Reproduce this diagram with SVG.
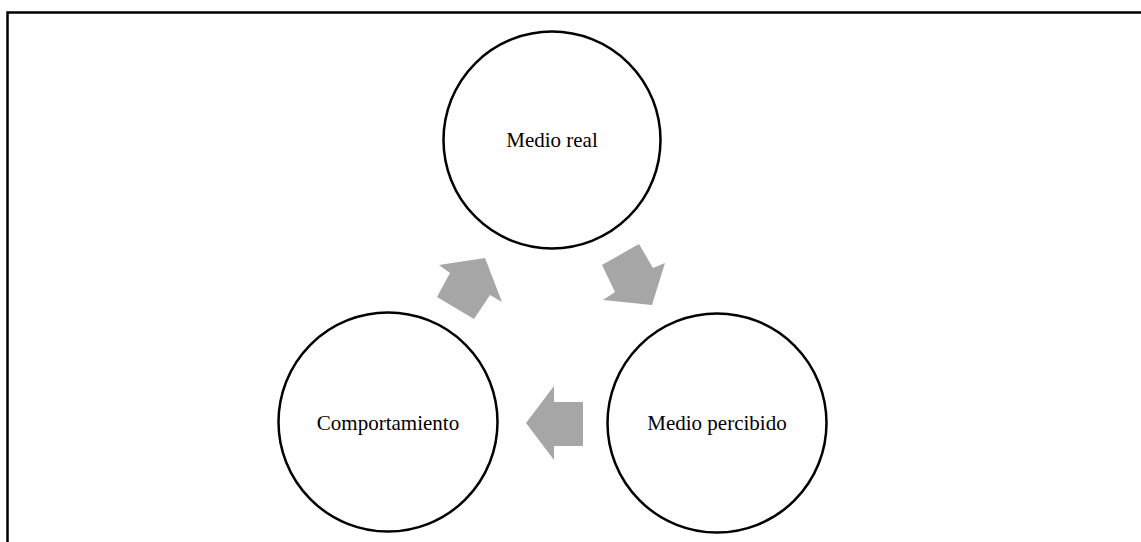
<svg xmlns="http://www.w3.org/2000/svg" width="1141" height="542" viewBox="0 0 1141 542">
<style>
.node circle{fill:#fff;stroke:#000;stroke-width:2.5}
.node text{font-family:"Liberation Serif","Times New Roman",serif;font-size:21px;fill:#000;text-anchor:middle}
.arrow{fill:#a6a6a6;stroke:none}
.frame{fill:none;stroke:#000;stroke-width:2.5}
</style>
<rect width="1141" height="542" fill="#fff"/>
<path class="frame" d="M7.5 542 V12.5 H1141"/>
<g id="connectors">
<polygon class="arrow" points="485,258 502,302 490,295 474,319 437,297 450,273 439,265"/>
<polygon class="arrow" points="602,265 639,244 653,268 665,263 652,305 603,300 615,292"/>
<polygon class="arrow" points="583,402 583,446 554,446 554,460 526,423 554,386 554,402"/>
</g>
<g id="medio-real" class="node">
<circle cx="552" cy="140" r="108.5"/>
<text x="552" y="147">Medio real</text>
</g>
<g id="medio-percibido" class="node">
<circle cx="717" cy="423" r="109.5"/>
<text x="717" y="430">Medio percibido</text>
</g>
<g id="comportamiento" class="node">
<circle cx="388" cy="422" r="109.5"/>
<text x="388" y="430">Comportamiento</text>
</g>
</svg>
